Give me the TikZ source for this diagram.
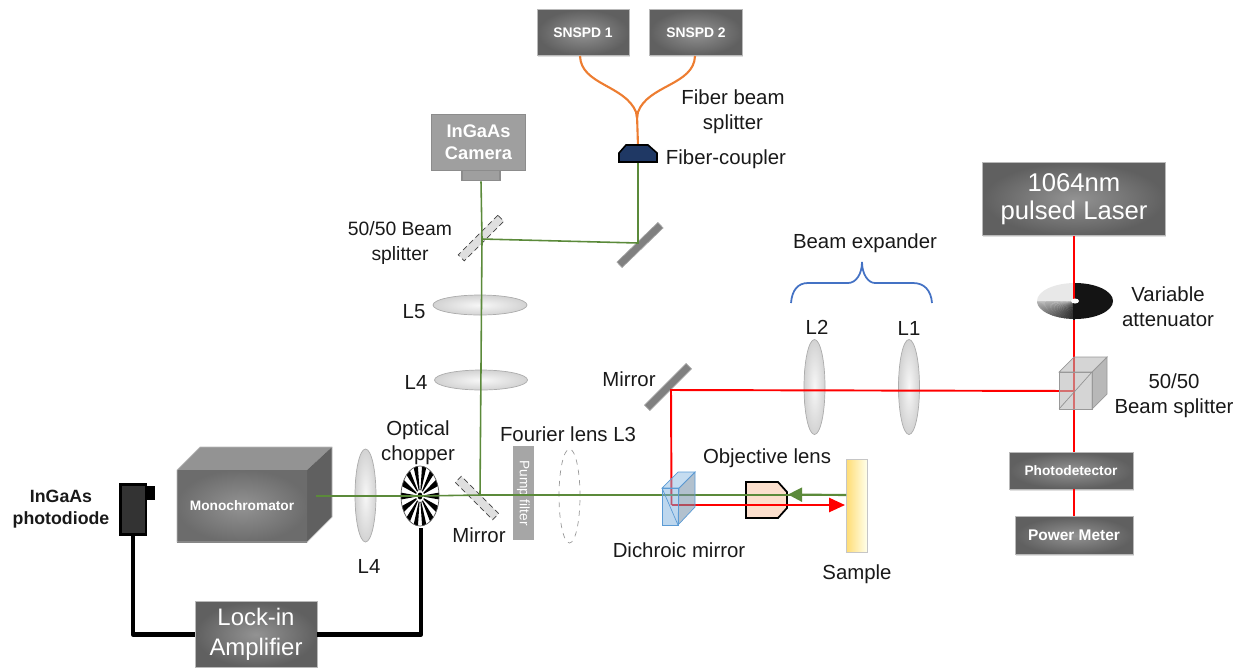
\documentclass[tikz,border=0pt]{standalone}
\usepackage{fontspec}
\setmainfont{Liberation Sans}
\usetikzlibrary{shapes.geometric, arrows.meta, shadows}

\definecolor{beamgreen}{HTML}{5B8A3A}
\definecolor{fiberorange}{HTML}{ED7D31}
\definecolor{bracketblue}{HTML}{4472C4}
\definecolor{couplernavy}{HTML}{1F3864}
\definecolor{objpeach}{HTML}{FBDFCD}
\definecolor{cubeblue}{HTML}{5B9BD5}

\tikzset{
  lbl/.style={font=\fontsize{11.6}{14}\selectfont, align=center, text=black!90, yshift=-1pt},
  instr/.style={rectangle, draw=gray!55, inner color=gray!85, outer color=gray!75!black, text=white, align=center, yshift=-0.3pt,
    drop shadow={shadow xshift=0.3pt, shadow yshift=-1pt, fill=gray!40, opacity=.6}},
  lens/.style={ellipse, draw=gray!65, inner color=gray!6, outer color=gray!35, inner sep=0pt},
  dashlens/.style={ellipse, draw=gray!80, dashed, fill=white, inner sep=0pt},
  mirrorbar/.style={rectangle, draw=gray!70, fill=gray, inner sep=0pt},
  dashmirror/.style={rectangle, draw=black!75, densely dashed, fill=gray!25, inner sep=0pt},
  redbeam/.style={draw=red, line width=1.1pt},
  greenbeam/.style={draw=beamgreen, line width=0.9pt},
  fiber/.style={draw=fiberorange, line width=1.2pt},
  cable/.style={draw=black, line width=2.7pt, line join=round},
}

\begin{document}
\begin{tikzpicture}[x=0.02cm, y=-0.02cm]
  \useasboundingbox (0,0) rectangle (1243,667);

  % instruments
  \node[instr, font=\bfseries\fontsize{7.9}{9}\selectfont, minimum width=1.84cm, minimum height=0.92cm] (snspdA) at (583,32) {SNSPD 1};
  \node[instr, font=\bfseries\fontsize{7.9}{9}\selectfont, minimum width=1.86cm, minimum height=0.92cm] (snspdB) at (696,32) {SNSPD 2};
  \node[instr, font=\fontsize{14.6}{16}\selectfont, minimum width=3.66cm, minimum height=1.46cm] (laser) at (1074,198.5) {1064nm\\pulsed Laser};
  \node[instr, font=\bfseries\fontsize{7.8}{9}\selectfont, minimum width=2.48cm, minimum height=0.74cm] (pdet) at (1071,470) {Photodetector};
  \node[instr, font=\bfseries\fontsize{8.8}{9}\selectfont, minimum width=2.36cm, minimum height=0.76cm] (pmeter) at (1074,535) {Power Meter};
  \node[instr, font=\fontsize{13.6}{17}\selectfont, minimum width=2.44cm, minimum height=1.32cm] (lockin) at (256,634) {Lock-in\\Amplifier};

  % camera
  \node[rectangle, draw=gray!90, line width=1pt, fill=gray!75, minimum width=0.76cm, minimum height=0.22cm, inner sep=0pt] (camhead) at (481,175) {};
  \node[rectangle, draw=gray!90, line width=1pt, fill=gray!75, text=white, align=center, font=\bfseries\fontsize{10.4}{12.5}\selectfont, minimum width=1.88cm, minimum height=1.12cm, inner sep=0pt] (camera) at (478.5,142.5) {InGaAs\\Camera};

  % monochromator
  \fill[gray!85] (177,470) -- (200,447) -- (332,447) -- (307,470) -- cycle;
  \fill[gray!75!black] (307,470) -- (332,447) -- (332,517) -- (307,542) -- cycle;
  \shade[inner color=gray!85, outer color=gray!85!black] (177,470) rectangle (307,542);
  \draw[gray!55] (177,470) -- (200,447) -- (332,447) -- (332,517) -- (307,542) -- (177,542) -- cycle;
  \node[text=white, font=\bfseries\fontsize{7.8}{9}\selectfont] (mono) at (242,506) {Monochromator};
  \coordinate (monoout) at (316,496);

  % lenses
  \node[lens, minimum width=1.88cm, minimum height=0.40cm] (lensE) at (480,305) {};
  \node[lens, minimum width=1.86cm, minimum height=0.40cm] (lensD) at (481,380) {};
  \node[lens, minimum width=0.42cm, minimum height=1.86cm] (lensF) at (365.5,495.5) {};
  \node[lens, minimum width=0.42cm, minimum height=1.90cm] (lensB) at (814.5,387) {};
  \node[lens, minimum width=0.42cm, minimum height=1.90cm] (lensA) at (909,387) {};
  \node[dashlens, minimum width=0.42cm, minimum height=1.88cm] (lensC) at (569.5,496) {};

  % pump filter
  \node[rectangle, fill=gray!70, text=white, rotate=-90, font=\fontsize{7.8}{9}\selectfont, minimum width=1.88cm, minimum height=0.42cm, inner sep=0pt] (pump) at (523.5,493) {Pump filter};

  % chopper
  \fill[white] (420,496) ellipse (19 and 30);
  \foreach \a in {0,25.7,...,340} {
    \fill[black] (420,496) -- ([shift={(420,496)}]\a-6.5:19 and 30) -- ([shift={(420,496)}]\a:19 and 30) -- ([shift={(420,496)}]\a+6.5:19 and 30) -- cycle;
  }
  \draw[gray!70!black] (420,496) ellipse (19 and 30);
  \fill[white] (420,496) ellipse (4 and 6);
  \fill[black] (420,496) ellipse (2.5 and 3.5);
  \coordinate (chop) at (420,496);

  % attenuator
  \foreach \a in {90,94,...,178} {
    \pgfmathsetmacro\lev{82-(\a-90)*0.62}
    \fill[black!\lev] (1075,301) -- ([shift={(1075,301)}]\a:38 and 18) -- ([shift={(1075,301)}]\a+5:38 and 18) -- cycle;
  }
  \fill[gray!18] (1075,301) -- (1037,301) arc[start angle=180, end angle=270, x radius=38, y radius=18] -- cycle;
  \fill[black!92] (1075,301) -- (1075,283) arc[start angle=270, end angle=450, x radius=38, y radius=18] -- cycle;
  \coordinate (atten) at (1075,301);

  % sample and objective
  \shade[left color=yellow!50!orange!55, right color=white!92!yellow, draw=gray!45] (846,459) rectangle (867,552);
  \coordinate (sample) at (846,495);
  \coordinate (samplered) at (845,505);
  \draw[black, line width=1pt, fill=objpeach] (746,482) -- (778,482) -- (787,492) -- (787,508) -- (778,518) -- (746,518) -- cycle;
  \coordinate (objtip) at (788,494.5);

  % mirrors
  \node[mirrorbar, rotate=44, minimum width=1.14cm, minimum height=0.15cm] (mirA) at (640,245) {};
  \node[mirrorbar, rotate=45, minimum width=1.18cm, minimum height=0.15cm] (mirB) at (668,387) {};
  \node[dashmirror, rotate=45, minimum width=1.12cm, minimum height=0.17cm] (splitter) at (481,238) {};
  \node[dashmirror, rotate=-45, minimum width=1.06cm, minimum height=0.17cm] (mirC) at (477,498) {};

  % beams
  \coordinate (bsred) at (1074,391);
  \coordinate (turnred) at (671,390);
  \coordinate (dichred) at (671.5,505);
  \draw[redbeam] (laser.south -| bsred) -- (atten -| bsred);
  \draw[redbeam] (atten -| bsred) -- (pdet.north -| bsred);
  \draw[redbeam] (pdet.south -| bsred) -- (pmeter.north -| bsred);
  \draw[redbeam] (bsred) -- (turnred) -- (dichred);
  \draw[redbeam, -{Triangle[length=9pt, width=8pt]}] (dichred) -- (samplered);
  \fill[black!92] (1073,301) rectangle (1075,320);
  \fill[white] (1075,301) ellipse (4 and 2.5);

  \coordinate (bsgreen) at (482,239);
  \coordinate (turngreen) at (638,243);
  \coordinate (mirgreen) at (480,495);
  \draw[greenbeam] (camhead.south) -- (bsgreen) -- (mirgreen);
  \draw[greenbeam] (bsgreen) -- (turngreen) -- (638,162);
  \draw[greenbeam] (monoout) -- (chop) -- (mirgreen) -- (sample);
  \draw[greenbeam, line width=1.2pt, -{Triangle[length=8pt, width=8pt]}] (sample) -- (objtip);

  % cube splitter
  \draw[gray!80, fill=gray!60, fill opacity=.55] (1059,372) -- (1074,357) -- (1107,357) -- (1092,372) -- cycle;
  \draw[gray!80, fill=gray!70, fill opacity=.8] (1092,372) -- (1107,357) -- (1107,394) -- (1092,409) -- cycle;
  \draw[gray!80, fill=gray!55, fill opacity=.6] (1059,372) rectangle (1092,409);
  \draw[gray!85] (1059,409) -- (1092,372);

  % dichroic cube
  \draw[cubeblue, fill=cubeblue!70, fill opacity=.5] (662,488) -- (678,472) -- (695,472) -- (679,488) -- cycle;
  \draw[cubeblue, fill=cubeblue!60!black!70, fill opacity=.55] (679,488) -- (695,472) -- (695,507) -- (678,525) -- cycle;
  \draw[cubeblue, fill=cubeblue!80, fill opacity=.5] (662,488) rectangle (678.5,525);
  \draw[cubeblue] (662,488) -- (678,525);

  % fiber and coupler
  \coordinate (split) at (637,115);
  \draw[fiber] (580,56) .. controls (581,85) and (625,85) .. (636,112) -- (637,118);
  \draw[fiber] (695,56) .. controls (694,85) and (648,85) .. (638,112) -- (637,118);
  \draw[fiber] (split) -- (638,146);
  \draw[black, line width=0.9pt, fill=couplernavy] (619,162) -- (619,153) -- (626,145) -- (648,145) -- (657,153) -- (657,162) -- cycle;

  % photodiode and cables
  \draw[black, line width=1.6pt, fill=black!80] (120.5,484.5) rectangle (146,534.5);
  \fill[black] (146,486) rectangle (155,500);
  \coordinate (diode) at (133,534);
  \draw[cable] (diode) |- (lockin.west);
  \draw[cable] (lockin.east) -| (421,528);

  % brace
  \draw[bracketblue, line width=1pt] (791,303) .. controls (792,290) and (798,283) .. (808,283) -- (848,283) .. controls (856,283) and (862,274) .. (862,262) .. controls (862,274) and (868,283) .. (875,283) -- (913,283) .. controls (924,283) and (931,290) .. (932,303);

  % labels
  \node[lbl] (lblfiber) at (733,110) {Fiber beam\\splitter};
  \node[lbl] (lblcoupler) at (726,157) {Fiber-coupler};
  \node[lbl, font=\fontsize{11}{14}\selectfont] (lblsplitA) at (400,241) {50/50 Beam\\splitter};
  \node[lbl] (lblexp) at (865,241) {Beam expander};
  \node[lbl] (lblvar) at (1168,305) {Variable\\attenuator};
  \node[lbl] (lblsplitB) at (1174,394) {50/50\\Beam splitter};
  \node[lbl] (lblE) at (414,310) {L5};
  \node[lbl] (lblD) at (416,381) {L4};
  \node[lbl] (lblB) at (817,326) {L2};
  \node[lbl] (lblA) at (909,327) {L1};
  \node[lbl] (lblmirB) at (629,377) {Mirror};
  \node[lbl] (lblF) at (369,565) {L4};
  \node[lbl] (lblchop) at (418,441) {Optical\\chopper};
  \node[lbl] (lblmirC) at (479,533) {Mirror};
  \node[lbl] (lblfour) at (568,432) {Fourier lens L3};
  \node[lbl] (lblobj) at (767,456) {Objective lens};
  \node[lbl] (lbldich) at (679,548) {Dichroic mirror};
  \node[lbl] (lblsample) at (857,572) {Sample};
  \node[lbl, font=\bfseries\fontsize{10.1}{12.5}\selectfont] (lbldiode) at (61,507) {InGaAs\\photodiode};
\end{tikzpicture}
\end{document}
